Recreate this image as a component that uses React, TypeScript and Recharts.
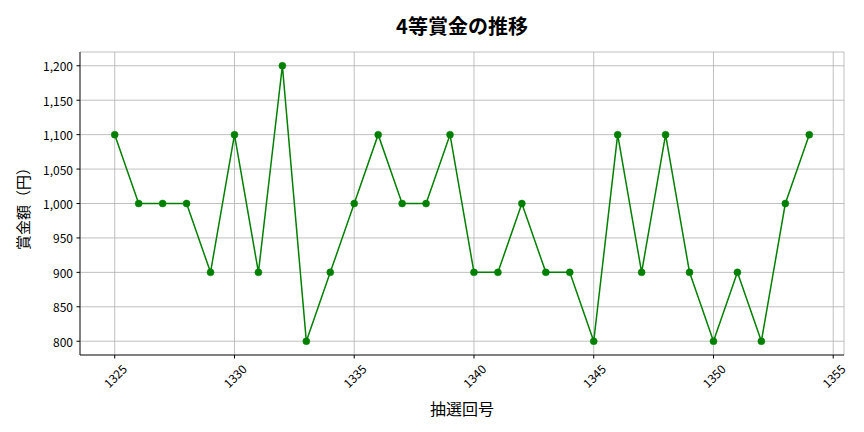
import React from "react";
import {
  LineChart,
  Line,
  XAxis,
  YAxis,
  CartesianGrid,
} from "recharts";

const drawNumbers = [
  1325, 1326, 1327, 1328, 1329, 1330, 1331, 1332, 1333, 1334, 1335, 1336, 1337, 1338, 1339,
  1340, 1341, 1342, 1343, 1344, 1345, 1346, 1347, 1348, 1349, 1350, 1351, 1352, 1353, 1354,
];
const prizeValues = [
  1100, 1000, 1000, 1000, 900, 1100, 900, 1200, 800, 900, 1000, 1100, 1000, 1000, 1100,
  900, 900, 1000, 900, 900, 800, 1100, 900, 1100, 900, 800, 900, 800, 1000, 1100,
];
const xTicks = [1325, 1330, 1335, 1340, 1345, 1350, 1355];
const yTicks = [800, 850, 900, 950, 1000, 1050, 1100, 1150, 1200];

const title = "4等賞金の推移";
const xLabel = "抽選回号";
const yLabel = "賞金額（円）";

const data = drawNumbers.map((d, i) => ({ draw: d, prize: prizeValues[i] }));

const FONT = "'Noto Sans CJK JP', 'Noto Sans', sans-serif";

const XTick = (props: any) => {
  const { x, y, payload } = props;
  const cy = y + 15;
  return (
    <text
      x={x}
      y={cy}
      transform={`rotate(-45, ${x}, ${cy})`}
      textAnchor="middle"
      dominantBaseline="central"
      fontSize={12}
      fill="#000"
      fontFamily={FONT}
    >
      {payload.value}
    </text>
  );
};

const YTick = (props: any) => {
  const { x, y, payload } = props;
  return (
    <text
      x={x}
      y={y}
      textAnchor="end"
      dominantBaseline="central"
      fontSize={12}
      fill="#000"
      fontFamily={FONT}
    >
      {Number(payload.value).toLocaleString("en-US")}
    </text>
  );
};

export default function App() {
  return (
    <div
      style={{
        position: "absolute",
        left: 0,
        top: 0,
        width: 864,
        height: 432,
        background: "#fff",
        fontFamily: FONT,
      }}
    >
      <svg
        width={864}
        height={432}
        style={{ position: "absolute", left: 0, top: 0, pointerEvents: "none" }}
      >
        <text
          x={462}
          y={25}
          textAnchor="middle"
          dominantBaseline="central"
          fontSize={20}
          fontWeight="bold"
          fontFamily={FONT}
          fill="#000"
        >
          {title}
        </text>
        <text
          x={462}
          y={408}
          textAnchor="middle"
          dominantBaseline="central"
          fontSize={16}
          fontFamily={FONT}
          fill="#000"
        >
          {xLabel}
        </text>
        <text
          x={22}
          y={205}
          transform="rotate(-90, 22, 205)"
          textAnchor="middle"
          dominantBaseline="central"
          fontSize={15}
          fontFamily={FONT}
          fill="#000"
        >
          {yLabel}
        </text>
      </svg>
      <div style={{ position: "absolute", left: 0, top: 0 }}>
        <LineChart
          width={864}
          height={432}
          data={data}
          margin={{ top: 52, right: 20, bottom: 0, left: 0 }}
        >
          <CartesianGrid
            xAxisId="main"
            yAxisId="main"
            stroke="#b0b0b0"
            strokeWidth={0.8}
          />
          <XAxis
            xAxisId="main"
            dataKey="draw"
            type="number"
            domain={[1323.55, 1355.45]}
            ticks={xTicks}
            allowDataOverflow
            height={77}
            tickSize={3.5}
            tickLine={{ stroke: "#000", strokeWidth: 1 }}
            axisLine={{ stroke: "#222", strokeWidth: 1 }}
            tick={<XTick />}
            interval={0}
          />
          <XAxis
            xAxisId="top"
            orientation="top"
            dataKey="draw"
            type="number"
            domain={[1323.55, 1355.45]}
            height={0}
            tick={false}
            tickLine={false}
            axisLine={{ stroke: "#222", strokeWidth: 1 }}
          />
          <YAxis
            yAxisId="main"
            type="number"
            domain={[780, 1220]}
            ticks={yTicks}
            allowDataOverflow
            width={80}
            tickSize={3.5}
            tickMargin={3.5}
            tickLine={{ stroke: "#000", strokeWidth: 1 }}
            axisLine={{ stroke: "#222", strokeWidth: 1 }}
            tick={<YTick />}
            interval={0}
          />
          <YAxis
            yAxisId="right"
            orientation="right"
            type="number"
            domain={[780, 1220]}
            width={0}
            tick={false}
            tickLine={false}
            axisLine={{ stroke: "#222", strokeWidth: 1 }}
          />
          <Line
            xAxisId="main"
            yAxisId="main"
            dataKey="prize"
            stroke="#008000"
            strokeWidth={1.5}
            dot={{ r: 3.5, fill: "#008000", stroke: "#008000", strokeWidth: 0.5 }}
            activeDot={false}
            isAnimationActive={false}
          />
        </LineChart>
      </div>
    </div>
  );
}
